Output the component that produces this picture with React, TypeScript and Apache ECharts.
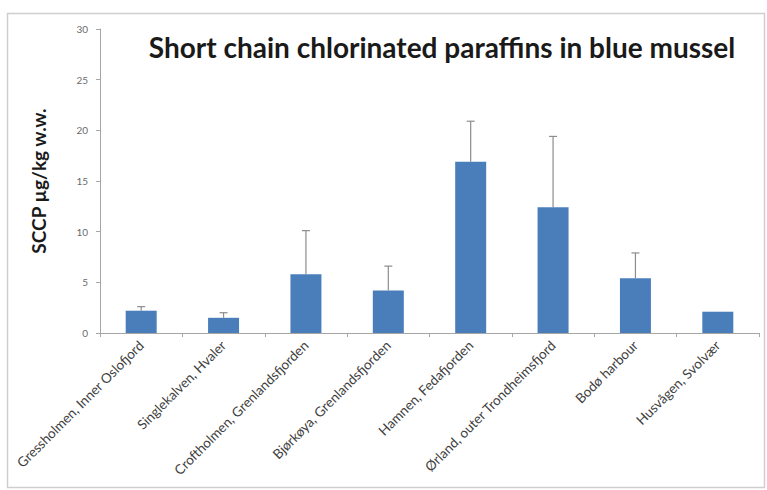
import React, { useEffect, useRef } from "react";
import * as echarts from "echarts";

const categories = [
  "Gressholmen, Inner Oslofjord",
  "Singlekalven, Hvaler",
  "Croftholmen, Grenlandsfjorden",
  "Bjørkøya, Grenlandsfjorden",
  "Hamnen, Fedafjorden",
  "Ørland, outer Trondheimsfjord",
  "Bodø harbour",
  "Husvågen, Svolvær",
];
const values = [2.2, 1.5, 5.8, 4.2, 16.9, 12.4, 5.4, 2.1];
const errorTops = [2.6, 2.0, 10.1, 6.6, 20.9, 19.4, 7.9, 2.1];
const yTicks = [0, 5, 10, 15, 20, 25, 30];

export default function App() {
  const ref = useRef<HTMLDivElement>(null);
  useEffect(() => {
    if (!ref.current) return;
    const chart = echarts.init(ref.current, null, { renderer: "svg" });
    const errData = categories.map((_, i) => [i, values[i], errorTops[i]]);
    chart.setOption({
      animation: false,
      backgroundColor: "#ffffff",
      title: {
        text: "Short chain chlorinated paraffins in blue mussel",
        left: 437,
        top: 28,
        textAlign: "center",
        textStyle: {
          fontFamily: "Lato",
          fontWeight: "bold",
          fontSize: 28,
          color: "#1a1a1a",
        },
      },
      graphic: [
        {
          type: "rect",
          shape: { x: 7.5, y: 13.5, width: 757, height: 474 },
          style: { fill: "none", stroke: "#cfcfcf", lineWidth: 1.5 },
          silent: true,
        },
      ],
      grid: { left: 100, right: 8, top: 29, bottom: 157 },
      xAxis: {
        type: "category",
        data: categories,
        axisLine: { lineStyle: { color: "#a6a6a6" } },
        axisTick: { show: true, alignWithLabel: false, length: 4, lineStyle: { color: "#a6a6a6" } },
        axisLabel: {
          rotate: 45,
          interval: 0,
          fontFamily: "Lato",
          fontSize: 13.5,
          color: "#404040",
          margin: 10,
        },
      },
      yAxis: {
        type: "value",
        min: 0,
        max: 30,
        interval: 5,
        name: "SCCP µg/kg w.w.",
        nameLocation: "middle",
        nameGap: 52,
        nameTextStyle: {
          fontFamily: "Lato",
          fontWeight: "bold",
          fontSize: 19,
          color: "#1a1a1a",
        },
        axisLine: { show: true, lineStyle: { color: "#a6a6a6" } },
        axisTick: { show: true, length: 4, lineStyle: { color: "#a6a6a6" } },
        splitLine: { show: false },
        axisLabel: {
          fontFamily: "Lato",
          fontSize: 10,
          color: "#6a6a6a",
          margin: 12,
          formatter: (v: number) => (yTicks.includes(v) ? String(v) : ""),
        },
      },
      series: [
        {
          type: "bar",
          data: values,
          barWidth: 31,
          itemStyle: { color: "#4a7ebb" },
        },
        {
          type: "custom",
          data: errData,
          z: 3,
          renderItem: (params: any, api: any) => {
            const idx = api.value(0);
            const base = api.coord([idx, api.value(1)]);
            const top = api.coord([idx, api.value(2)]);
            if (Math.abs(base[1] - top[1]) < 0.5) return { type: "group", children: [] };
            const style = { stroke: "#8c8c8c", lineWidth: 1.2 };
            return {
              type: "group",
              children: [
                { type: "line", shape: { x1: base[0], y1: base[1], x2: top[0], y2: top[1] }, style },
                { type: "line", shape: { x1: top[0] - 4, y1: top[1], x2: top[0] + 4, y2: top[1] }, style },
              ],
            };
          },
        },
      ],
    });
    return () => chart.dispose();
  }, []);
  return <div ref={ref} style={{ width: 767, height: 490, position: "absolute", left: 0, top: 0 }} />;
}
